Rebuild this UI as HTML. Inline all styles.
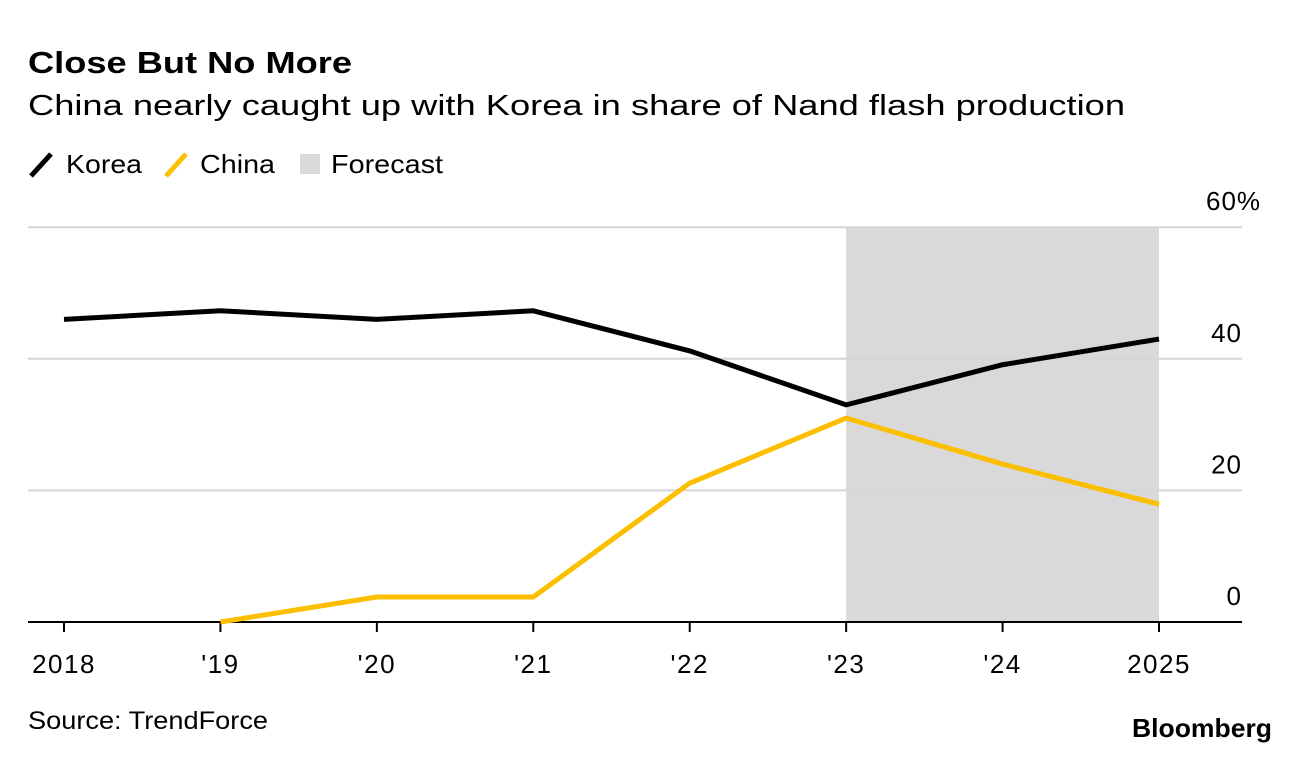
<!DOCTYPE html>
<html><head><meta charset="utf-8"><style>
body{margin:0;background:#fff;width:1296px;height:760px;overflow:hidden;font-family:"Liberation Sans",sans-serif;}
</style></head><body>
<svg width="1296" height="760" id="c" style="font-family:'Liberation Sans',sans-serif">
<text x="28" y="73" font-size="31" font-weight="bold" textLength="324" lengthAdjust="spacingAndGlyphs">Close But No More</text>
<text x="28" y="115" font-size="29" textLength="1097" lengthAdjust="spacingAndGlyphs">China nearly caught up with Korea in share of Nand flash production</text>
<g>
<line x1="31" y1="176" x2="51" y2="154" stroke="#000" stroke-width="5"/>
<text x="66" y="173" font-size="26" textLength="76" lengthAdjust="spacingAndGlyphs">Korea</text>
<line x1="166" y1="176" x2="186" y2="154" stroke="#fcbf00" stroke-width="5"/>
<text x="200" y="173" font-size="26" textLength="75" lengthAdjust="spacingAndGlyphs">China</text>
<rect x="300" y="154" width="20" height="20" fill="#d9d9d9"/>
<text x="331" y="173" font-size="26" textLength="112" lengthAdjust="spacingAndGlyphs">Forecast</text>
</g>
<g id="plot"></g>
<text x="28" y="729" font-size="25" textLength="240" lengthAdjust="spacingAndGlyphs">Source: TrendForce</text>
<text x="1132" y="737" font-size="26" font-weight="bold" textLength="140" lengthAdjust="spacingAndGlyphs">Bloomberg</text>
</svg>
<script>
const categories=["2018","'19","'20","'21","'22","'23","'24","2025"];
const korea=[46.0,47.3,46.0,47.3,41.2,33.0,39.1,43.0];
const china=[null,0,3.8,3.8,21.1,31.0,24.0,17.9];
const yTicks=[0,20,40,60];
const yTickLabels=["0","20","40","60%"];
const forecastStart=5, forecastEnd=7;
const ns="http://www.w3.org/2000/svg";
const g=document.getElementById('plot');
const x=i=>64+i*156.43;
const y=v=>622-v*6.58;
function el(t,a){const e=document.createElementNS(ns,t);for(const k in a)e.setAttribute(k,a[k]);g.appendChild(e);return e;}
const fr=el('rect',{x:x(forecastStart),y:y(60),width:x(forecastEnd)-x(forecastStart),height:y(0)-y(60),fill:'#d9d9d9'});


yTicks.forEach((t,i)=>{
 if(t!==0){const l=el('line',{x1:28,x2:1242,y1:y(t),y2:y(t),stroke:'#d6d6d6','stroke-width':2});
 
 }
 const lab=yTickLabels[i];
 const hasPct=lab.endsWith('%');
 const tx=el('text',{x:hasPct?1206:1242,y:y(t)-17,'font-size':26,'text-anchor':hasPct?'start':'end','letter-spacing':1});tx.textContent=lab;
 
 
});
const ax=el('line',{x1:28,x2:1242,y1:y(0),y2:y(0),stroke:'#000','stroke-width':2});


categories.forEach((c,i)=>{
 const tk=el('line',{x1:x(i),x2:x(i),y1:y(0),y2:y(0)+10,stroke:'#000','stroke-width':2});
 
 
 const t=el('text',{x:x(i),y:673,'font-size':26,'text-anchor':'middle','letter-spacing':1.5});t.textContent=c;
 
 
});
function line(data,color,name){
 const pts=[];data.forEach((v,i)=>{if(v!==null)pts.push(x(i)+','+y(v));});
 const p=el('polyline',{points:pts.join(' '),fill:'none',stroke:color,'stroke-width':5,'stroke-linejoin':'round'});
 
 
}
line(china,'#fcbf00','china-line');
line(korea,'#000','korea-line');
</script>
</body></html>
